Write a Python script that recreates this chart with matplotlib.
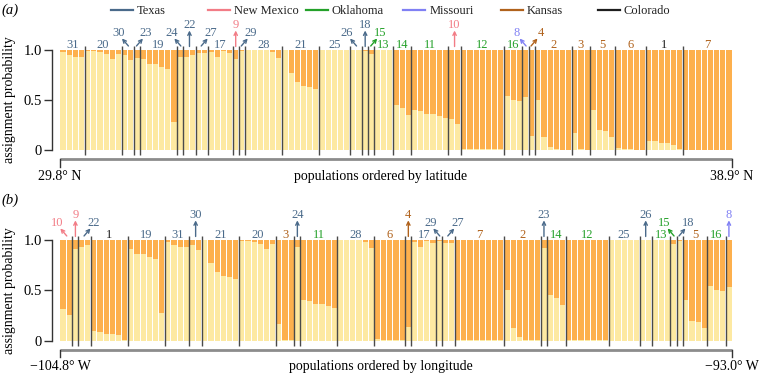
import matplotlib
matplotlib.use('Agg')
import matplotlib.pyplot as plt
from matplotlib.patches import FancyArrowPatch
from matplotlib.lines import Line2D

plt.rcParams['font.family'] = ['Liberation Serif', 'DejaVu Serif']

# ---------------- data ----------------
states = ['Texas', 'New Mexico', 'Oklahoma', 'Missouri', 'Kansas', 'Colorado']
state_colors = ['#4a6a8a', '#f27c86', '#24a12a', '#8080f4', '#b0621c', '#1e1e1e']

pop_state = {1: 'Colorado', 2: 'Kansas', 3: 'Kansas', 4: 'Kansas', 5: 'Kansas', 6: 'Kansas',
             7: 'Kansas', 8: 'Missouri', 9: 'New Mexico', 10: 'New Mexico', 11: 'Oklahoma',
             12: 'Oklahoma', 13: 'Oklahoma', 14: 'Oklahoma', 15: 'Oklahoma', 16: 'Oklahoma',
             17: 'Texas', 18: 'Texas', 19: 'Texas', 20: 'Texas', 21: 'Texas', 22: 'Texas',
             23: 'Texas', 24: 'Texas', 25: 'Texas', 26: 'Texas', 27: 'Texas', 28: 'Texas',
             29: 'Texas', 30: 'Texas', 31: 'Texas'}

# assignment probability (light cluster) per individual, by population
pop_q = {
    1: [0.095, 0.09, 0.07, 0.07, 0.055, 0.01],
    2: [0.50, 0.13, 0.035, 0.01, 0.005, 0.005],
    3: [0.17, 0.01, 0.005],
    4: [0.14],
    5: [0.40, 0.20, 0.19, 0.13],
    6: [0.02, 0.01, 0.01, 0.005, 0.005],
    7: [0.005, 0.005, 0.005, 0.005, 0.005, 0.005, 0.005, 0.005],
    8: [0.53],
    9: [0.91],
    10: [0.31, 0.26],
    11: [0.40, 0.39, 0.36, 0.36, 0.34, 0.32],
    12: [0.008, 0.008, 0.008, 0.008, 0.008, 0.008, 0.008],
    13: [1.0, 1.0, 1.0],
    14: [0.45, 0.42, 0.35],
    15: [0.96],
    16: [0.54, 0.50, 0.49],
    17: [0.98, 0.93, 0.99, 0.97],
    18: [0.99],
    19: [0.91, 0.86, 0.86, 0.83, 0.81, 0.28],
    20: [0.99, 0.99, 0.98, 0.96, 0.91, 0.96],
    21: [1.0, 0.77, 0.68, 0.64, 0.63, 0.61],
    22: [0.93, 0.95],
    23: [0.92],
    24: [0.93],
    25: [1.0, 1.0, 1.0, 1.0, 1.0],
    26: [1.0, 1.0],
    27: [0.97, 0.97],
    28: [1.0, 1.0, 1.0, 1.0, 0.98, 0.92],
    29: [0.99],
    30: [0.95, 0.90],
    31: [0.98, 0.95, 0.93, 0.93],
}

lat_order = [31, 20, 30, 23, 19, 24, 22, 27, 17, 9, 29, 28, 21, 25, 26, 18, 15, 13, 14, 11,
             10, 12, 16, 8, 4, 2, 3, 5, 6, 1, 7]
lon_order = [10, 9, 22, 1, 19, 31, 30, 21, 20, 3, 24, 11, 28, 6, 4, 17, 29, 27, 7, 2, 23, 14,
             12, 25, 26, 13, 15, 18, 5, 16, 8]

# label placement for narrow populations: L / R diagonal arrow, V vertical arrow
lat_arrows = {30: 'L', 23: 'R', 24: 'L', 22: 'V', 27: 'R', 9: 'V', 29: 'R', 26: 'L',
              18: 'V', 15: 'R', 10: 'V', 8: 'L', 4: 'R'}
lon_arrows = {10: 'L', 9: 'V', 22: 'R', 30: 'V', 24: 'V', 4: 'V', 29: 'L', 27: 'R',
              23: 'V', 26: 'V', 15: 'L', 18: 'R', 8: 'V'}

lat_ends = ['29.8\u00b0 N', '38.9\u00b0 N']
lon_ends = ['\u2212104.8\u00b0 W', '\u221293.0\u00b0 W']
ylabel = 'assignment probability'

LIGHT = '#fde9a2'
ORANGE = '#fdb04d'
SEP = '#4a4a4a'

W, H = 759, 376
fig = plt.figure(figsize=(W / 100, H / 100), dpi=100)
color_of = dict(zip(states, state_colors))

X0, X1 = 60.0, 732.0
SPINE_X = 51.7


def panel(order, arrows, top_px, bot_px, ends, xtitle, tag):
    n = sum(len(pop_q[p]) for p in order)
    pitch = (X1 - X0) / n
    ax = fig.add_axes([SPINE_X / W, 1 - bot_px / H, (X1 - SPINE_X) / W, (bot_px - top_px) / H])
    ax.set_xlim(-0.5 - (X0 - SPINE_X) / pitch, n - 0.5)
    ax.set_ylim(0, 1)
    for s in ['top', 'right', 'bottom']:
        ax.spines[s].set_visible(False)
    ax.spines['left'].set_color('#333333')
    ax.spines['left'].set_linewidth(1.0)
    ax.set_xticks([])
    ax.set_yticks([0, 0.5, 1.0])
    ax.set_yticklabels(['0', '0.5', '1.0'], fontsize=10.5)
    ax.tick_params(axis='y', length=5.5, width=1.0, color='#333333', pad=1.5)

    xs, qs = [], []
    for p in order:
        for v in pop_q[p]:
            xs.append(len(xs))
            qs.append(v)
    ax.bar(xs, qs, width=0.84, color=LIGHT, linewidth=0)
    ax.bar(xs, [1 - v for v in qs], bottom=qs, width=0.84, color=ORANGE, linewidth=0)

    start = 0
    bounds = []
    for i, p in enumerate(order):
        k = len(pop_q[p])
        c = start + (k - 1) / 2.0
        col = color_of[pop_state[p]]
        st = arrows.get(p)
        if st is None:
            ax.text(c, 1.02, str(p), color=col, fontsize=9, ha='center', va='baseline', clip_on=False)
        elif st == 'V':
            ax.add_patch(FancyArrowPatch((c, 1.035), (c, 1.195), arrowstyle='->', mutation_scale=6,
                                         color=col, lw=1.0, clip_on=False, shrinkA=0, shrinkB=0))
            ax.text(c, 1.22, str(p), color=col, fontsize=9, ha='center', va='baseline', clip_on=False)
        else:
            sgn = -1 if st == 'L' else 1
            ax.add_patch(FancyArrowPatch((c - sgn * 0.1, 1.04), (c + sgn * 0.95, 1.115), arrowstyle='->',
                                         mutation_scale=6, color=col, lw=1.0, clip_on=False,
                                         shrinkA=0, shrinkB=0))
            ax.text(c + sgn * 1.45, 1.135, str(p), color=col, fontsize=9, ha='center', va='baseline',
                    clip_on=False)
        start += k
        if i < len(order) - 1:
            bounds.append(start - 0.5)
    ax.vlines(bounds, -0.05, 1.04, color=SEP, lw=1.0, clip_on=False, zorder=3)

    # bracket below
    hpx = bot_px - top_px
    yb = -9.3 / hpx
    ye = -16.5 / hpx
    ax.plot([-0.5, n - 0.5], [yb, yb], color='#8c8c8c', lw=2.0, clip_on=False, solid_capstyle='butt')
    ax.plot([-0.5, -0.5], [yb, ye], color='#333333', lw=1.0, clip_on=False)
    ax.plot([n - 0.5, n - 0.5], [yb, ye], color='#333333', lw=1.0, clip_on=False)

    ty = 1 - (bot_px + 24.5) / H
    fig.text(X0 / W, ty, ends[0], fontsize=10, ha='center', va='center_baseline')
    fig.text(X1 / W, ty, ends[1], fontsize=10, ha='center', va='center_baseline')
    fig.text(381 / W, ty, xtitle, fontsize=10, ha='center', va='center_baseline')

    fig.text(10 / W, 1 - (top_px + bot_px) / 2 / H, ylabel, rotation=90, fontsize=10,
             ha='center', va='center')
    fig.text(1 / W, 1 - (top_px - 40) / H, tag, fontsize=10.5, style='italic',
             ha='left', va='center')
    return ax


panel(lat_order, lat_arrows, 50.0, 150.0, lat_ends, 'populations ordered by latitude', '(a)')
panel(lon_order, lon_arrows, 240.0, 340.7, lon_ends, 'populations ordered by longitude', '(b)')

# legend
for i, (s, c) in enumerate(zip(states, state_colors)):
    x0 = 111 + i * 97.4
    fig.add_artist(Line2D([x0 / W, (x0 + 22) / W], [1 - 10 / H, 1 - 10 / H], color=c, lw=1.6))
    fig.text((x0 + 26) / W, 1 - 10 / H, s, fontsize=9, ha='left', va='center_baseline', color='#222222')

fig.savefig('out.png', dpi=100, facecolor='white')
